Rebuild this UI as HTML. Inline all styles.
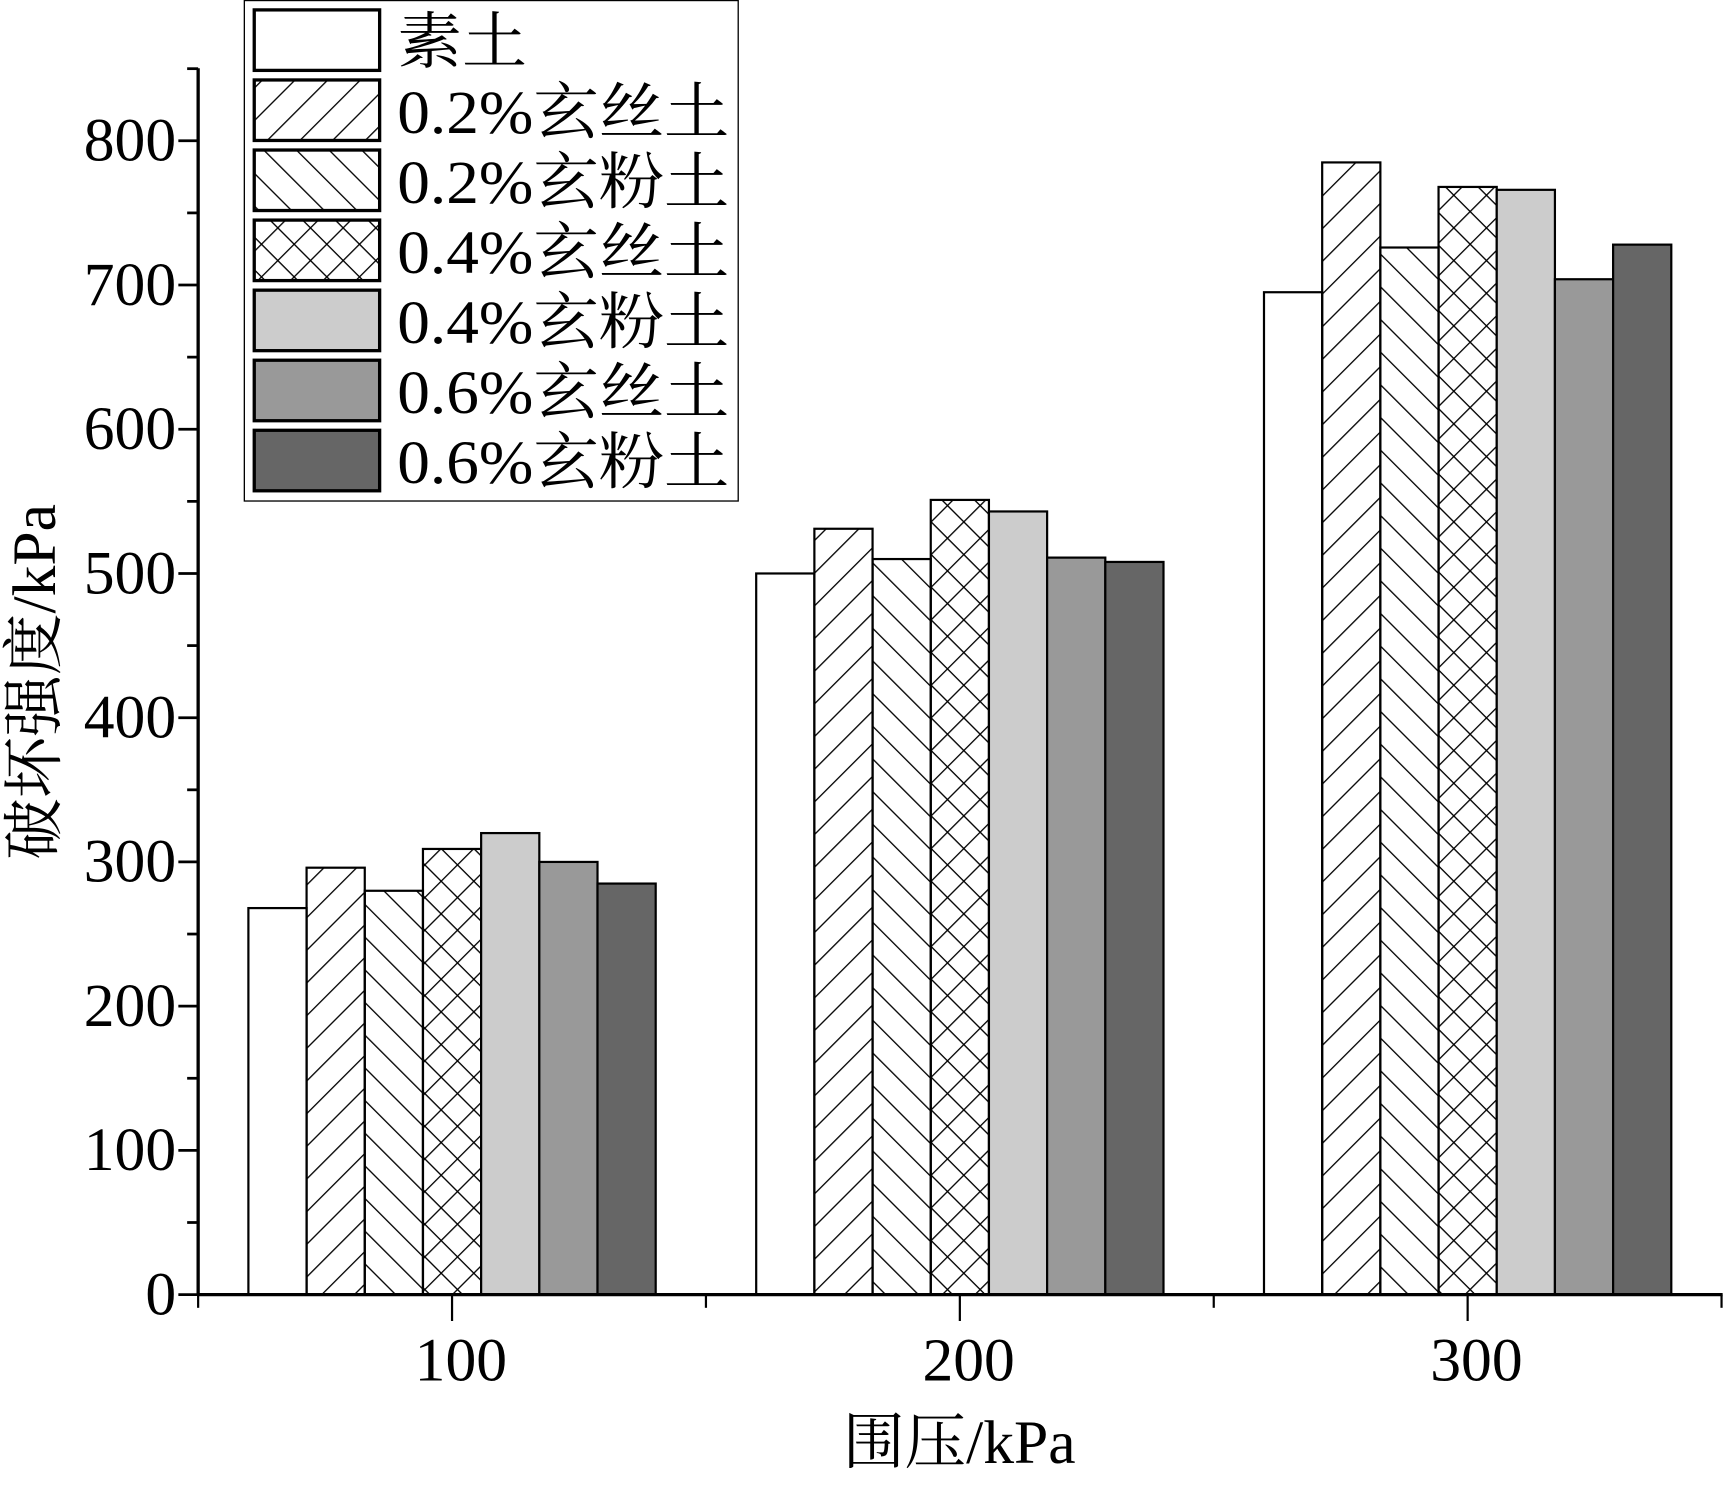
<!DOCTYPE html>
<html><head><meta charset="utf-8"><style>
html,body{margin:0;padding:0;background:#fff;}
svg{display:block;}
text{font-family:"Liberation Serif","Noto Serif CJK SC","Noto Sans CJK SC",serif;fill:#000;}
</style></head><body>
<svg id="chart" width="1725" height="1486" viewBox="0 0 1568 1351" xmlns="http://www.w3.org/2000/svg">
<defs>
<pattern id="p-fwd" patternUnits="userSpaceOnUse" width="21" height="21" patternTransform="rotate(45)">
<line x1="10" y1="0" x2="10" y2="21" stroke="#000" stroke-width="1.2"/></pattern>
<pattern id="p-back" patternUnits="userSpaceOnUse" width="21" height="21" patternTransform="rotate(-45)">
<line x1="10" y1="0" x2="10" y2="21" stroke="#000" stroke-width="1.2"/></pattern>
<pattern id="p-cross" patternUnits="userSpaceOnUse" width="21" height="21" patternTransform="rotate(45)">
<line x1="10" y1="0" x2="10" y2="21" stroke="#000" stroke-width="1.2"/>
<line x1="0" y1="10" x2="21" y2="10" stroke="#000" stroke-width="1.2"/></pattern>
</defs>
<g id="bars"></g>
<g id="axes"></g>
<g id="legend"></g>
<text x="872" y="1330" font-size="56" text-anchor="middle">围压/kPa</text>
<text transform="translate(50,620) rotate(-90)" font-size="56" text-anchor="middle">破坏强度/kPa</text>
</svg>
<script>
const categories = [100, 200, 300];
const seriesNames = ["素土","0.2%玄丝土","0.2%玄粉土","0.4%玄丝土","0.4%玄粉土","0.6%玄丝土","0.6%玄粉土"];
const s0 = [268, 500, 695];
const s1 = [296, 531, 785];
const s2 = [280, 510, 726];
const s3 = [309, 551, 768];
const s4 = [320, 543, 766];
const s5 = [300, 511, 704];
const s6 = [285, 508, 728];
const seriesValues = [s0, s1, s2, s3, s4, s5, s6];
const yTicks = [0, 100, 200, 300, 400, 500, 600, 700, 800];
const xTickLabels = ["100", "200", "300"];

const fills = ["#fff","url(#p-fwd)","url(#p-back)","url(#p-cross)","#cccccc","#999999","#666666"];
const NS = "http://www.w3.org/2000/svg";
const X0 = 180, X1 = 1565, Y0 = 1177, YT = 62;
const yScale = v => Y0 - v * (Y0 - 128) / 800;
const xScale = c => X0 + (c - 50) * (X1 - X0) / 300;
const barW = 52.9;
function mk(tag, attrs, parent){const e=document.createElementNS(NS,tag);for(const k in attrs)e.setAttribute(k,attrs[k]);parent.appendChild(e);return e;}

const bars = document.getElementById('bars');
categories.forEach((c, ci) => {
  const cx = xScale(c);
  seriesValues.forEach((arr, si) => {
    const x = cx - 3.5 * barW + si * barW;
    const y = yScale(arr[ci]);
    const r = mk('rect', {x: x, y: y, width: barW, height: Y0 - y, fill: fills[si], stroke: '#000', 'stroke-width': 2}, bars);
    
    
  });
});

const axes = document.getElementById('axes');
const ya = mk('line', {x1: X0, y1: YT, x2: X0, y2: Y0 + 1, stroke: '#000', 'stroke-width': 3}, axes);


const xa = mk('line', {x1: X0 - 1, y1: Y0, x2: X1 + 1, y2: Y0, stroke: '#000', 'stroke-width': 3}, axes);


for (let v = 50; v <= 850; v += 100) {
  const t = mk('line', {x1: X0 - 10, y1: yScale(v), x2: X0, y2: yScale(v), stroke: '#000', 'stroke-width': 2.5}, axes);
  
  
}
yTicks.forEach(v => {
  const t = mk('line', {x1: X0 - 18, y1: yScale(v), x2: X0, y2: yScale(v), stroke: '#000', 'stroke-width': 2.5}, axes);
  
  
  const s = String(v);
  const lb = mk('text', {x: X0 - 20, y: yScale(v) + 18, 'font-size': 56, 'text-anchor': 'end', textLength: 28 * s.length, lengthAdjust: 'spacingAndGlyphs'}, axes);
  lb.textContent = s;
  
  
});
[50, 150, 250, 350].forEach(c => {
  const t = mk('line', {x1: xScale(c), y1: Y0, x2: xScale(c), y2: Y0 + 12, stroke: '#000', 'stroke-width': 2}, axes);
  
  
});
categories.forEach((c, i) => {
  const t = mk('line', {x1: xScale(c), y1: Y0, x2: xScale(c), y2: Y0 + 24, stroke: '#000', 'stroke-width': 2}, axes);
  
  
  const lb = mk('text', {x: xScale(c) + 8, y: 1255, 'font-size': 56, 'text-anchor': 'middle', textLength: 84, lengthAdjust: 'spacingAndGlyphs'}, axes);
  lb.textContent = xTickLabels[i];
  
  
});

const lg = document.getElementById('legend');
const box = mk('rect', {x: 222, y: 0.5, width: 449, height: 455, fill: '#fff', stroke: '#000', 'stroke-width': 1.2}, lg);


seriesNames.forEach((n, i) => {
  const y = 9 + i * 63.7;
  const sw = mk('rect', {x: 231, y: y, width: 114, height: 55, fill: fills[i], stroke: '#000', 'stroke-width': 3}, lg);
  
  
  const t = mk('text', {x: 361, y: y + 48, 'font-size': 56, textLength: i === 0 ? 118 : 302, lengthAdjust: 'spacingAndGlyphs'}, lg);
  t.textContent = n;
  
  
});
</script>
</body></html>
